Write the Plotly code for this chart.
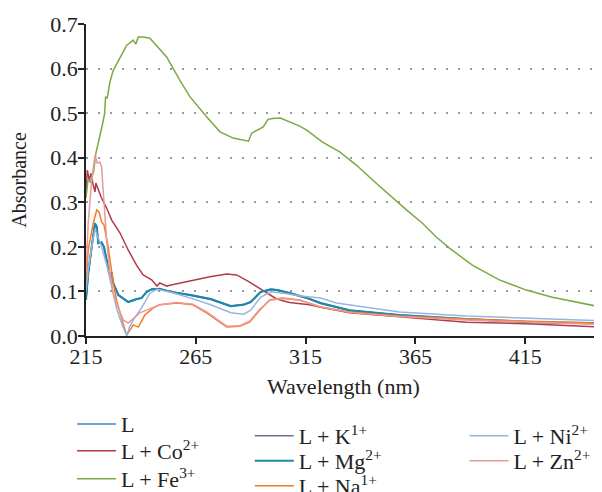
import plotly.graph_objects as go

# ---- data ----
wl_L = [215.0, 216.0, 217.6, 219.1, 219.9, 220.6, 222.1, 223.2, 224.4, 225.6, 226.7, 227.4, 229.7, 234.2, 238.0, 240.3, 242.6, 244.9, 248.6, 253.6, 262.7, 271.8, 280.9, 286.8, 290.0, 294.5, 299.1, 302.3, 308.2, 315.9, 321.8, 335.0, 357.7, 388.2, 418.2, 449.5]
abs_L = [0.082, 0.141, 0.2, 0.252, 0.244, 0.209, 0.21, 0.199, 0.169, 0.141, 0.14, 0.119, 0.092, 0.077, 0.083, 0.085, 0.098, 0.105, 0.106, 0.099, 0.092, 0.083, 0.068, 0.07, 0.076, 0.098, 0.105, 0.103, 0.096, 0.085, 0.074, 0.058, 0.047, 0.038, 0.031, 0.029]

wl_Co = [215.0, 215.6, 216.5, 217.3, 218.0, 219.1, 219.5, 220.6, 222.1, 224.4, 226.7, 230.5, 234.2, 238.0, 241.0, 244.9, 247.3, 248.6, 251.8, 253.2, 257.7, 259.1, 263.6, 271.4, 279.1, 283.6, 289.5, 295.5, 301.8, 307.7, 316.8, 321.4, 335.0, 357.7, 388.2, 418.2, 449.5]
abs_Co = [0.316, 0.372, 0.35, 0.365, 0.345, 0.323, 0.343, 0.327, 0.309, 0.287, 0.26, 0.231, 0.193, 0.159, 0.137, 0.126, 0.112, 0.119, 0.112, 0.114, 0.119, 0.121, 0.126, 0.133, 0.139, 0.137, 0.121, 0.103, 0.083, 0.075, 0.07, 0.065, 0.052, 0.043, 0.031, 0.027, 0.02]

wl_Fe = [215.0, 215.9, 217.0, 218.5, 219.5, 220.0, 221.5, 222.5, 223.5, 223.9, 224.7, 225.9, 227.4, 230.5, 233.5, 236.5, 237.7, 238.8, 241.1, 244.1, 247.1, 251.7, 257.7, 262.3, 269.9, 276.0, 282.0, 288.1, 289.0, 290.4, 292.5, 295.7, 297.9, 300.0, 303.5, 307.7, 312.3, 315.5, 322.7, 330.5, 338.2, 345.5, 353.2, 360.9, 368.2, 374.5, 380.5, 390.9, 403.2, 415.5, 427.3, 439.5, 449.5]
abs_Fe = [0.31, 0.35, 0.345, 0.37, 0.41, 0.42, 0.455, 0.475, 0.5, 0.536, 0.534, 0.57, 0.596, 0.623, 0.652, 0.664, 0.655, 0.671, 0.671, 0.668, 0.652, 0.626, 0.574, 0.537, 0.492, 0.458, 0.444, 0.439, 0.437, 0.455, 0.46, 0.469, 0.486, 0.488, 0.489, 0.48, 0.471, 0.462, 0.435, 0.413, 0.383, 0.35, 0.316, 0.283, 0.253, 0.222, 0.197, 0.159, 0.126, 0.103, 0.087, 0.074, 0.065]

wl_K = [215.0, 216.0, 217.6, 219.1, 219.9, 220.6, 222.1, 223.2, 224.4, 225.6, 226.7, 227.4, 229.7, 234.2, 238.0, 240.3, 242.6, 244.9, 248.6, 253.6, 262.7, 271.8, 280.9, 286.8, 290.0, 294.5, 299.1, 302.3, 308.2, 315.9, 321.8, 335.0, 357.7, 388.2, 418.2, 449.5]
abs_K = [0.083, 0.14, 0.199, 0.251, 0.245, 0.208, 0.209, 0.2, 0.17, 0.142, 0.141, 0.118, 0.093, 0.076, 0.082, 0.086, 0.099, 0.104, 0.105, 0.1, 0.091, 0.082, 0.067, 0.071, 0.077, 0.099, 0.104, 0.102, 0.095, 0.084, 0.073, 0.057, 0.046, 0.037, 0.031, 0.028]

wl_Mg = [215.0, 216.0, 217.6, 219.1, 219.9, 220.6, 222.1, 223.2, 224.4, 225.6, 226.7, 227.4, 229.7, 234.2, 238.0, 240.3, 242.6, 244.9, 248.6, 253.6, 262.7, 271.8, 280.9, 286.8, 290.0, 294.5, 299.1, 302.3, 308.2, 315.9, 321.8, 335.0, 357.7, 388.2, 418.2, 449.5]
abs_Mg = [0.081, 0.14, 0.2, 0.253, 0.245, 0.208, 0.21, 0.2, 0.17, 0.141, 0.141, 0.119, 0.092, 0.076, 0.083, 0.085, 0.099, 0.105, 0.106, 0.099, 0.092, 0.083, 0.067, 0.07, 0.076, 0.099, 0.105, 0.103, 0.096, 0.085, 0.074, 0.058, 0.047, 0.038, 0.031, 0.029]

wl_Na = [215.0, 216.0, 218.3, 219.9, 221.0, 222.1, 223.2, 225.1, 227.4, 228.9, 230.5, 232.0, 233.5, 235.0, 236.5, 238.8, 241.8, 245.6, 248.6, 256.4, 263.6, 269.9, 274.5, 279.1, 285.0, 289.5, 294.1, 298.6, 304.5, 312.3, 321.4, 335.0, 357.7, 388.2, 418.2, 449.5]
abs_Na = [0.11, 0.193, 0.253, 0.283, 0.278, 0.256, 0.249, 0.2, 0.119, 0.081, 0.052, 0.029, 0.002, 0.013, 0.025, 0.02, 0.047, 0.063, 0.07, 0.074, 0.07, 0.052, 0.036, 0.02, 0.022, 0.031, 0.058, 0.081, 0.085, 0.081, 0.065, 0.054, 0.045, 0.038, 0.033, 0.029]

wl_Ni = [215.0, 216.0, 217.6, 219.1, 220.6, 222.1, 224.4, 226.7, 229.0, 231.5, 233.6, 234.8, 236.5, 240.3, 243.3, 244.1, 247.3, 253.6, 262.7, 271.8, 280.9, 286.8, 290.0, 294.5, 299.1, 305.0, 312.7, 321.8, 329.0, 357.7, 388.2, 418.2, 449.5]
abs_Ni = [0.1, 0.15, 0.2, 0.24, 0.22, 0.2, 0.16, 0.11, 0.06, 0.025, 0.0, 0.02, 0.036, 0.063, 0.087, 0.096, 0.105, 0.098, 0.085, 0.07, 0.052, 0.049, 0.058, 0.087, 0.099, 0.096, 0.09, 0.085, 0.074, 0.054, 0.045, 0.04, 0.034]

wl_Zn = [215.0, 216.0, 217.6, 219.1, 220.1, 221.4, 222.1, 223.2, 224.4, 225.9, 227.4, 229.7, 232.0, 234.2, 236.5, 239.5, 242.6, 248.6, 256.4, 263.6, 269.9, 274.5, 279.1, 285.0, 289.5, 294.1, 298.6, 304.5, 312.3, 321.4, 335.0, 357.7, 388.2, 418.2, 449.5]
abs_Zn = [0.14, 0.253, 0.35, 0.406, 0.388, 0.39, 0.379, 0.29, 0.215, 0.141, 0.096, 0.063, 0.036, 0.029, 0.04, 0.052, 0.058, 0.07, 0.075, 0.071, 0.054, 0.037, 0.022, 0.023, 0.033, 0.06, 0.08, 0.084, 0.08, 0.066, 0.053, 0.044, 0.036, 0.031, 0.026]

x_ticks = [215, 265, 315, 365, 415]
y_ticks = [0.0, 0.1, 0.2, 0.3, 0.4, 0.5, 0.6, 0.7]

series = [
    ("L", wl_L, abs_L, "#3f86c4", 1.5),
    ("L + Co<sup>2+</sup>", wl_Co, abs_Co, "#b13c48", 1.5),
    ("L + Fe<sup>3+</sup>", wl_Fe, abs_Fe, "#79aa42", 1.5),
    ("L + K<sup>1+</sup>", wl_K, abs_K, "#8064a2", 1.5),
    ("L + Mg<sup>2+</sup>", wl_Mg, abs_Mg, "#1a8aa8", 2.0),
    ("L + Na<sup>1+</sup>", wl_Na, abs_Na, "#f47c20", 1.5),
    ("L + Ni<sup>2+</sup>", wl_Ni, abs_Ni, "#98b5de", 1.5),
    ("L + Zn<sup>2+</sup>", wl_Zn, abs_Zn, "#e8999a", 1.5),
]

# legend slot for each entry (paper coordinates of the top-left corner)
legend_pos = [(-0.027, -0.215), (-0.027, -0.301), (-0.027, -0.391),
              (0.318, -0.253), (0.318, -0.333), (0.318, -0.413),
              (0.735, -0.253), (0.735, -0.333)]

FONT = "Liberation Serif"
fig = go.Figure()
legends = {}
for i, (name, x, y, col, w) in enumerate(series):
    key = "legend" if i == 0 else f"legend{i + 1}"
    fig.add_trace(go.Scatter(x=x, y=y, mode="lines", name=name,
                             line=dict(color=col, width=w), legend=key))
    lx, ly = legend_pos[i]
    legends[key] = dict(x=lx, y=ly, xanchor="left", yanchor="top",
                        font=dict(family=FONT, size=22, color="#222"),
                        bgcolor="rgba(0,0,0,0)", itemwidth=39)

# the page body adds an 8 px offset, so the figure is laid out 8 px smaller
fig.update_layout(
    width=594, height=484,
    margin=dict(l=78, r=1, t=16, b=156, autoexpand=False),
    paper_bgcolor="white", plot_bgcolor="white",
    font=dict(family=FONT, size=22, color="#222"),
    showlegend=True,
    xaxis=dict(range=[215, 449.5], tickvals=x_ticks, ticks="outside", ticklen=6,
               tickwidth=1.5, tickcolor="#222", showline=True, linecolor="#222",
               linewidth=1.5, showgrid=False, zeroline=False,
               ticklabelstandoff=-6,
               tickfont=dict(family=FONT, size=22),
               title=dict(text="Wavelength (nm)", standoff=10,
                          font=dict(family=FONT, size=22))),
    yaxis=dict(range=[0, 0.7], tickvals=y_ticks, tickformat=".1f", ticks="outside",
               ticklen=6, tickwidth=1.5, tickcolor="#222", showline=True,
               linecolor="#222", linewidth=1.5, showgrid=True, gridcolor="#999",
               gridwidth=1.5, griddash="2px,10px", zeroline=False,
               ticklabelstandoff=-4,
               tickfont=dict(family=FONT, size=22),
               title=dict(text="Absorbance", standoff=19,
                          font=dict(family=FONT, size=20))),
)
fig.update_layout(**legends)

fig.write_html("out.html")
